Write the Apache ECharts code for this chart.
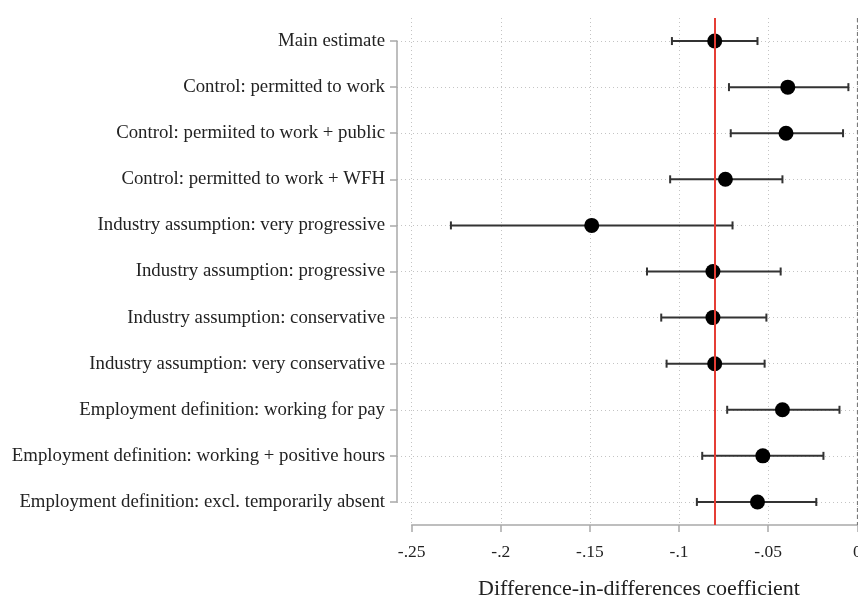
<!DOCTYPE html>
<html>
<head>
<meta charset="utf-8">
<script src="https://cdn.jsdelivr.net/npm/echarts@6/dist/echarts.min.js"></script>
<style>
  html, body { margin: 0; padding: 0; background: #fff; }
  #chart { width: 858px; height: 597px; }
</style>
</head>
<body>
<div id="chart"></div>
<script>
// Robustness specifications, top to bottom
const specifications = [
  'Main estimate',
  'Control: permitted to work',
  'Control: permiited to work + public',
  'Control: permitted to work + WFH',
  'Industry assumption: very progressive',
  'Industry assumption: progressive',
  'Industry assumption: conservative',
  'Industry assumption: very conservative',
  'Employment definition: working for pay',
  'Employment definition: working + positive hours',
  'Employment definition: excl. temporarily absent'
];
// Point estimates and confidence bounds
const estimates = [-0.080, -0.039, -0.040, -0.074, -0.149, -0.081, -0.081, -0.080, -0.042, -0.053, -0.056];
const ciLower   = [-0.104, -0.072, -0.071, -0.105, -0.228, -0.118, -0.110, -0.107, -0.073, -0.087, -0.090];
const ciUpper   = [-0.056, -0.005, -0.008, -0.042, -0.070, -0.043, -0.051, -0.052, -0.010, -0.019, -0.023];
// Reference lines
const mainEstimateLine = -0.08;
const zeroLine = 0;
// x-axis tick labels
const xTicks = [-0.25, -0.2, -0.15, -0.1, -0.05, 0];
const xTickLabels = ['-.25', '-.2', '-.15', '-.1', '-.05', '0'];

const serif = '"Liberation Serif", "DejaVu Serif", serif';
const gridDots = { color: '#c4c4c4', type: [1, 3], width: 1 };
const axisGrey = { color: '#a9a9a9', width: 1.5 };
const chart = echarts.init(document.getElementById('chart'), null, { renderer: 'canvas' });

const rows = specifications.map((_, i) => i);

chart.setOption({
  animation: false,
  backgroundColor: '#fff',
  title: {
    text: 'Difference-in-differences coefficient',
    left: 634,
    textAlign: 'center',
    top: 573,
    textStyle: { fontFamily: serif, fontSize: 22, fontWeight: 'normal', color: '#222' }
  },
  grid: [
    { left: 411.7, right: 0.7, top: 18, bottom: 72, containLabel: false, outerBoundsMode: 'none' },
    { left: 397, right: 0.7, top: 41, bottom: 95, containLabel: false, outerBoundsMode: 'none' }
  ],
  xAxis: [
    {
      gridIndex: 0, type: 'value', min: -0.25, max: 0, interval: 0.05, position: 'bottom',
      axisLine: { show: true, onZero: false, lineStyle: axisGrey },
      axisTick: { show: true, length: 7, lineStyle: axisGrey },
      axisLabel: {
        margin: 18, color: '#222', fontFamily: serif, fontSize: 17.5,
        showMinLabel: true, showMaxLabel: true,
        formatter: (v) => {
          const k = xTicks.findIndex(t => Math.abs(t - v) < 1e-9);
          return k >= 0 ? xTickLabels[k] : '';
        }
      },
      splitLine: { show: true, lineStyle: gridDots }
    },
    {
      gridIndex: 1, type: 'value', min: -0.25, max: 0,
      axisLine: { show: false, onZero: false }, axisTick: { show: false },
      axisLabel: { show: false }, splitLine: { show: false }
    }
  ],
  yAxis: [
    {
      gridIndex: 0, type: 'value', min: -0.5, max: 10.5, inverse: true,
      axisLine: { show: false, onZero: false }, axisTick: { show: false },
      axisLabel: { show: false }, splitLine: { show: false }
    },
    {
      gridIndex: 1, type: 'category', data: specifications, boundaryGap: false, inverse: true,
      position: 'left',
      axisLine: { show: true, onZero: false, lineStyle: axisGrey },
      axisTick: { show: true, length: 7, lineStyle: axisGrey },
      axisLabel: { margin: 12, color: '#222', fontFamily: serif, fontSize: 18.8 },
      splitLine: { show: true, lineStyle: gridDots }
    }
  ],
  series: [
    {
      // reference lines: main estimate (red) and zero (dashed)
      type: 'line', xAxisIndex: 0, yAxisIndex: 0, data: [], z: 1,
      markLine: {
        symbol: 'none', silent: true, label: { show: false },
        data: [
          { xAxis: mainEstimateLine, lineStyle: { color: '#e53d35', width: 2, type: 'solid' } },
          { xAxis: zeroLine, lineStyle: { color: '#7a7a7a', width: 1.2, type: [4, 3] } }
        ]
      }
    },
    {
      // confidence intervals with end caps
      type: 'custom', xAxisIndex: 0, yAxisIndex: 0, z: 2,
      data: rows.map(i => [ciLower[i], ciUpper[i], i]),
      renderItem: (params, api) => {
        const a = api.coord([api.value(0), api.value(2)]);
        const b = api.coord([api.value(1), api.value(2)]);
        const cap = 4;
        const style = { stroke: '#333', lineWidth: 2 };
        return {
          type: 'group',
          children: [
            { type: 'line', shape: { x1: a[0], y1: a[1], x2: b[0], y2: b[1] }, style },
            { type: 'line', shape: { x1: a[0], y1: a[1] - cap, x2: a[0], y2: a[1] + cap }, style },
            { type: 'line', shape: { x1: b[0], y1: b[1] - cap, x2: b[0], y2: b[1] + cap }, style }
          ]
        };
      }
    },
    {
      type: 'scatter', xAxisIndex: 0, yAxisIndex: 0, z: 3,
      symbol: 'circle', symbolSize: 15,
      itemStyle: { color: '#000', opacity: 1 },
      data: rows.map(i => [estimates[i], i])
    }
  ]
});
</script>
</body>
</html>
